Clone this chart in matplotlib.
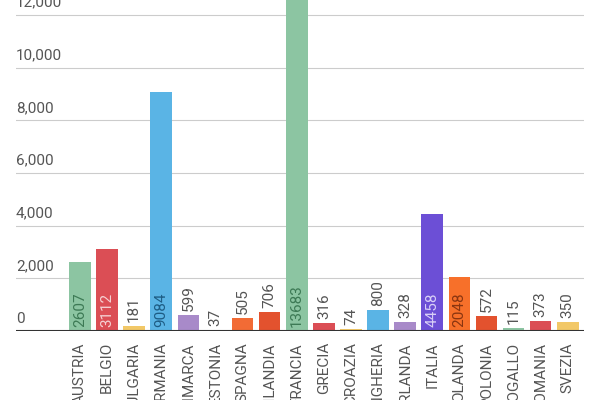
import matplotlib.pyplot as plt

countries = ['AUSTRIA', 'BELGIO', 'BULGARIA', 'GERMANIA', 'DANIMARCA', 'ESTONIA', 'SPAGNA',
             'FINLANDIA', 'FRANCIA', 'GRECIA', 'CROAZIA', 'UNGHERIA', 'IRLANDA', 'ITALIA',
             'OLANDA', 'POLONIA', 'PORTOGALLO', 'ROMANIA', 'SVEZIA']
values = [2607, 3112, 181, 9084, 599, 37, 505, 706, 13683, 316, 74, 800, 328, 4458,
          2048, 572, 115, 373, 350]
colors = ['#8cc5a2', '#db4e55', '#f2c867', '#5ab4e5', '#a88ac9', '#4b4096', '#f26b35',
          '#e3522e', '#8cc5a2', '#db4e55', '#f2c867', '#5ab4e5', '#a88ac9', '#6c4fd6',
          '#f7702a', '#e3522e', '#8cc5a2', '#db4e55', '#f2c867']
inside_col = ['#3d7a55', '#f5d0d2', None, '#1e5d85', None, None, None, None, '#3d7a55',
              None, None, None, None, '#d9d0f7', '#8a3510', None, None, None, None]

plt.rcParams['font.family'] = ['Roboto', 'DejaVu Sans']
fig = plt.figure(figsize=(6, 4), dpi=100)
ax = fig.add_axes([16 / 600, 69 / 400, 568 / 600, 331 / 400])
x = range(len(countries))
ax.bar(x, values, width=0.8, color=colors, zorder=2)
ax.set_ylim(0, 12570)
ax.set_xlim(-2.36, len(countries) - 0.4)

for t in range(2000, 12001, 2000):
    ax.axhline(t, color='#cccccc', lw=0.8, zorder=1)
ax.axhline(0, color='#333333', lw=1.5, zorder=3)
for t in range(0, 12001, 2000):
    ax.text(0, t + 200, f'{t:,}', transform=ax.get_yaxis_transform(), ha='left',
            va='bottom', fontsize=11, color='#555555')

for i, v in enumerate(values):
    if inside_col[i]:
        ax.text(i, 150, str(v), rotation=90, ha='center', va='bottom', fontsize=11,
                color=inside_col[i], zorder=4)
    else:
        ax.text(i, v + 150, str(v), rotation=90, ha='center', va='bottom', fontsize=11,
                color='#555555', zorder=4)

ax.set_xticks(list(x))
ax.set_xticklabels(countries, rotation=90, fontsize=11, color='#555555')
ax.tick_params(length=0, pad=8)
ax.set_yticks([])
for s in ax.spines.values():
    s.set_visible(False)
fig.savefig('out.png')
